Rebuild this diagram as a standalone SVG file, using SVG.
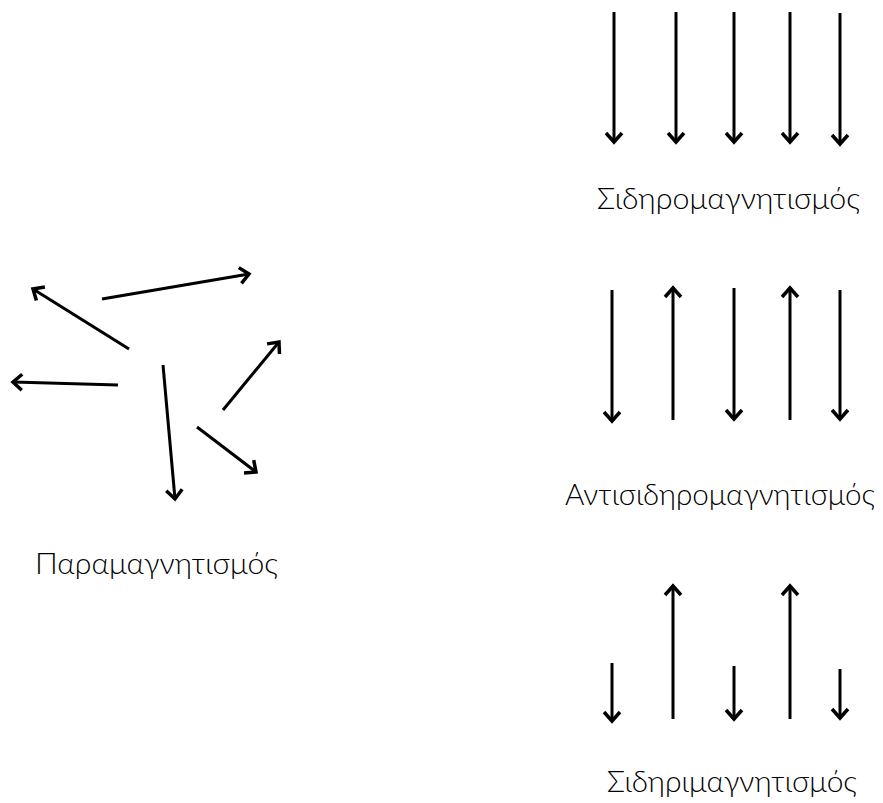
<svg xmlns="http://www.w3.org/2000/svg" width="883" height="803" viewBox="0 0 883 803">
  <style>
    .spin { stroke: #000; stroke-width: 3; fill: none; marker-end: url(#head); }
    .label { font-family: "Lato", "Liberation Sans", Arial, sans-serif; font-weight: 300; font-size: 29px; fill: #000; }
  </style>
  <defs>
    <!-- open chevron arrowhead, drawn in user units -->
    <marker id="head" markerUnits="userSpaceOnUse" markerWidth="24" markerHeight="24" viewBox="-12 -12 24 24" refX="0" refY="0" orient="auto" overflow="visible">
      <path d="M-9,-8 L0,0 L-9,8" fill="none" stroke="#000" stroke-width="3.5" stroke-linejoin="miter"/>
    </marker>
  </defs>
  <rect width="883" height="803" fill="#fff"/>

  <g id="connectors">
    <!-- paramagnet: randomly oriented moments -->
    <g id="para-spins">
      <line class="spin" x1="102" y1="299" x2="249" y2="274"/>
      <line class="spin" x1="129" y1="349" x2="33" y2="289"/>
      <line class="spin" x1="118" y1="385" x2="13" y2="382"/>
      <line class="spin" x1="163" y1="365" x2="175" y2="499"/>
      <line class="spin" x1="223" y1="410" x2="279" y2="342"/>
      <line class="spin" x1="197" y1="427" x2="256" y2="472"/>
    </g>
    <!-- ferromagnet: all moments parallel -->
    <g id="ferro-spins">
      <line class="spin" x1="614" y1="12" x2="614" y2="142"/>
      <line class="spin" x1="676" y1="12" x2="676" y2="142"/>
      <line class="spin" x1="734" y1="12" x2="734" y2="142"/>
      <line class="spin" x1="790" y1="12" x2="790" y2="142"/>
      <line class="spin" x1="840" y1="13" x2="840" y2="144"/>
    </g>
    <!-- antiferromagnet: equal moments alternating -->
    <g id="antiferro-spins">
      <line class="spin" x1="612" y1="290" x2="612" y2="421"/>
      <line class="spin" x1="673" y1="420" x2="673" y2="288"/>
      <line class="spin" x1="734" y1="288" x2="734" y2="419"/>
      <line class="spin" x1="790" y1="420" x2="790" y2="288"/>
      <line class="spin" x1="840" y1="290" x2="840" y2="419"/>
    </g>
    <!-- ferrimagnet: unequal moments alternating -->
    <g id="ferri-spins">
      <line class="spin" x1="612" y1="663" x2="612" y2="721"/>
      <line class="spin" x1="673" y1="719" x2="673" y2="586"/>
      <line class="spin" x1="734" y1="666" x2="734" y2="719"/>
      <line class="spin" x1="790" y1="719" x2="790" y2="586"/>
      <line class="spin" x1="840" y1="669" x2="840" y2="718"/>
    </g>
  </g>

  <g id="para">
    <text class="label" x="35" y="574" textLength="243" lengthAdjust="spacingAndGlyphs">Παραμαγνητισμός</text>
  </g>
  <g id="ferro">
    <text class="label" x="597" y="209" textLength="263" lengthAdjust="spacingAndGlyphs">Σιδηρομαγνητισμός</text>
  </g>
  <g id="antiferro">
    <text class="label" x="565" y="505" textLength="310" lengthAdjust="spacingAndGlyphs">Αντισιδηρομαγνητισμός</text>
  </g>
  <g id="ferri">
    <text class="label" x="607" y="792" textLength="250" lengthAdjust="spacingAndGlyphs">Σιδηριμαγνητισμός</text>
  </g>
</svg>
